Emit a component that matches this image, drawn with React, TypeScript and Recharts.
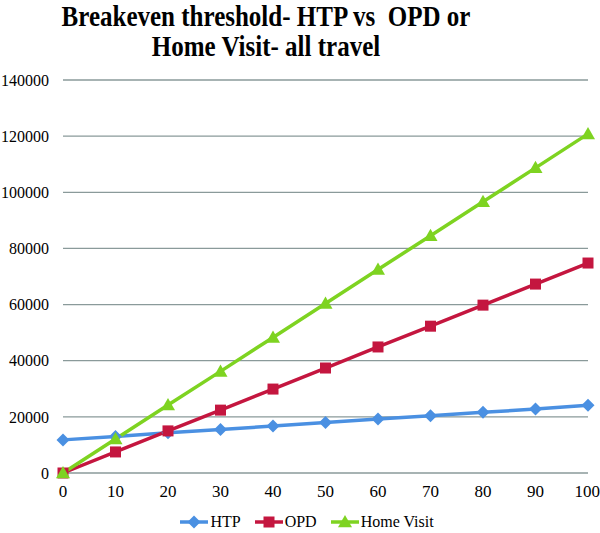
import { CartesianGrid, Legend, Line, LineChart, XAxis, YAxis } from 'recharts';

const travel = [0, 10, 20, 30, 40, 50, 60, 70, 80, 90, 100];
const htp = [11800, 13000, 14300, 15500, 16700, 18000, 19200, 20400, 21600, 22800, 24100];
const opd = [0, 7500, 15000, 22400, 29900, 37400, 44900, 52300, 59800, 67300, 74800];
const homeVisit = [0, 12100, 24200, 36200, 48300, 60400, 72500, 84500, 96600, 108700, 120800];
const xTicks = [0, 10, 20, 30, 40, 50, 60, 70, 80, 90, 100];
const yTicks = [0, 20000, 40000, 60000, 80000, 100000, 120000, 140000];

const data = travel.map((t, i) => ({ travel: t, htp: htp[i], opd: opd[i], home: homeVisit[i] }));

const BLUE = '#4a90e2';
const RED = '#c4163f';
const GREEN = '#7ed321';
const FONT = '"Liberation Serif", "DejaVu Serif", serif';

type Shape = 'diamond' | 'square' | 'triangle';

function marker(shape: Shape, cx: number, cy: number, fill: string, key?: string | number) {
  if (shape === 'diamond') {
    const r = 6.5;
    return <path key={key} d={`M${cx},${cy - r}L${cx + r},${cy}L${cx},${cy + r}L${cx - r},${cy}Z`} fill={fill} />;
  }
  if (shape === 'square') {
    const r = 5.5;
    return <rect key={key} x={cx - r} y={cy - r} width={r * 2} height={r * 2} fill={fill} />;
  }
  const r = 7;
  return <path key={key} d={`M${cx},${cy - r}L${cx + r},${cy + r * 0.75}L${cx - r},${cy + r * 0.75}Z`} fill={fill} />;
}

const dotFor = (shape: Shape, fill: string) => (props: any) =>
  marker(shape, props.cx, props.cy, fill, props.index);

const legendItems: { label: string; color: string; shape: Shape }[] = [
  { label: 'HTP', color: BLUE, shape: 'diamond' },
  { label: 'OPD', color: RED, shape: 'square' },
  { label: 'Home Visit', color: GREEN, shape: 'triangle' },
];

function ChartLegend() {
  return (
    <div
      style={{
        display: 'flex',
        justifyContent: 'center',
        gap: 14,
        paddingTop: 10,
        marginLeft: 18,
        fontFamily: FONT,
        fontSize: 16,
        color: '#000',
      }}
    >
      {legendItems.map((it) => (
        <div key={it.label} style={{ display: 'flex', alignItems: 'center', gap: 2 }}>
          <svg width={28} height={16}>
            <line x1={0} y1={8} x2={28} y2={8} stroke={it.color} strokeWidth={3.5} />
            {marker(it.shape, 14, 8, it.color)}
          </svg>
          <span>{it.label}</span>
        </div>
      ))}
    </div>
  );
}

export default function App() {
  return (
    <div style={{ position: 'absolute', left: 0, top: 0, width: 600, height: 533, background: '#fff' }}>
      <div style={{ position: 'absolute', left: 0, top: 0 }}>
        <LineChart width={600} height={533} data={data} margin={{ top: 80, right: 12, bottom: 0, left: 8 }}>
          <CartesianGrid vertical={false} stroke="#8a9a9a" strokeWidth={1.3} />
          <XAxis
            dataKey="travel"
            type="number"
            domain={[0, 100]}
            ticks={xTicks}
            axisLine={false}
            tickLine={false}
            tickSize={0}
            tickMargin={12}
            height={30}
            tick={{ fill: '#000', fontFamily: FONT, fontSize: 17 }}
          />
          <YAxis
            domain={[0, 140000]}
            ticks={yTicks}
            axisLine={false}
            tickLine={false}
            tickSize={0}
            tickMargin={14}
            width={55}
            tick={{ fill: '#000', fontFamily: FONT, fontSize: 16 }}
          />
          <Legend verticalAlign="bottom" height={30} content={() => <ChartLegend />} />
          <Line dataKey="htp" name="HTP" stroke={BLUE} strokeWidth={3.5} dot={dotFor('diamond', BLUE)} isAnimationActive={false} />
          <Line dataKey="opd" name="OPD" stroke={RED} strokeWidth={3.5} dot={dotFor('square', RED)} isAnimationActive={false} />
          <Line dataKey="home" name="Home Visit" stroke={GREEN} strokeWidth={3.5} dot={dotFor('triangle', GREEN)} isAnimationActive={false} />
        </LineChart>
      </div>
      <div
        style={{
          position: 'absolute',
          left: 0,
          top: 1,
          width: 532,
          textAlign: 'center',
          fontFamily: FONT,
          fontWeight: 'bold',
          fontSize: 25,
          lineHeight: '25px',
          color: '#000',
          transform: 'scale(1, 1.2)',
          transformOrigin: 'top',
        }}
      >
        Breakeven threshold- HTP vs&nbsp; OPD or
        <br />
        Home Visit- all travel
      </div>
    </div>
  );
}
